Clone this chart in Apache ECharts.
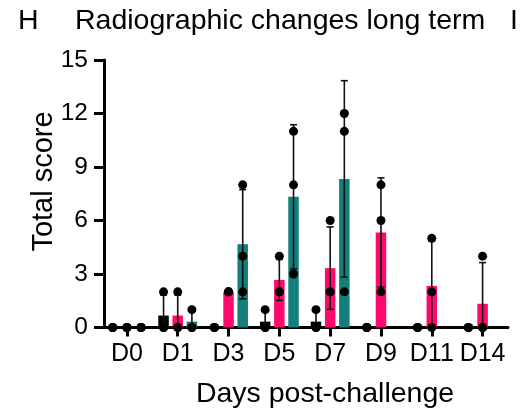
<!DOCTYPE html>
<html>
<head>
<meta charset="utf-8">
<script src="https://cdn.jsdelivr.net/npm/echarts@6/dist/echarts.min.js"></script>
<style>
  html, body { margin: 0; padding: 0; background: #fff; }
  #chart { width: 530px; height: 412px; }
</style>
</head>
<body>
<div id="chart"></div>
<script>
// Days after challenge
const categories = ['D0', 'D1', 'D3', 'D5', 'D7', 'D9', 'D11', 'D14'];
const yTicks = { min: 0, max: 15, interval: 3 };

// Group means (bar heights)
const meanA = [0, 0.67, 0, 0.33, 0.33, 0, 0, 0];
const meanB = [0, 0.67, 2, 2.67, 3.33, 5.33, 2.33, 1.33];
const meanC = [0, 0.33, 4.67, 7.33, 8.33, null, null, null];

// Standard deviations (error bars)
const sdA = [0, 1.15, 0, 0.58, 0.58, 0, 0, 0];
const sdB = [0, 1.15, 0, 1.15, 2.31, 3.06, 2.52, 2.31];
const sdC = [0, 0.58, 3.06, 4.04, 5.51, null, null, null];

// Individual animal scores
const pointsA = [[0, 0, 0], [2, 0, 0], [0, 0, 0], [1, 0, 0], [1, 0, 0], [0, 0, 0], [0, 0, 0], [0, 0, 0]];
const pointsB = [[0, 0, 0], [2, 0, 0], [2, 2, 2], [4, 2, 2], [6, 2, 2], [8, 6, 2], [5, 2, 0], [4, 0, 0]];
const pointsC = [[0, 0, 0], [1, 0, 0], [8, 4, 2], [11, 8, 3], [12, 11, 2], null, null, null];

const FONT = 'Liberation Sans, Arial, sans-serif';
const BAR_W = 10.5;
const BAR_GAP = 0.35;
const STEP = BAR_W * (1 + BAR_GAP);

const groups = [
  { name: 'Group A', color: '#000000', mean: meanA, sd: sdA, pts: pointsA, offset: -STEP },
  { name: 'Group B', color: '#FF0A6C', mean: meanB, sd: sdB, pts: pointsB, offset: 0 },
  { name: 'Group C', color: '#137E7A', mean: meanC, sd: sdC, pts: pointsC, offset: STEP }
];

// Error bar (mean ± SD, clipped at zero) plus one dot per animal
function makeRenderer(offset) {
  return function (params, api) {
    const cat = api.value(0);
    const mean = api.value(1);
    const sd = api.value(2);
    const x = api.coord([cat, 0])[0] + offset;
    const children = [];
    const lineStyle = { stroke: '#111', lineWidth: 1.6 };
    if (sd > 0) {
      const yTop = api.coord([cat, mean + sd])[1];
      const lowVal = Math.max(0, mean - sd);
      const yBot = api.coord([cat, lowVal])[1];
      children.push({ type: 'line', shape: { x1: x, y1: yTop, x2: x, y2: yBot }, style: lineStyle });
      children.push({ type: 'line', shape: { x1: x - 3.5, y1: yTop, x2: x + 3.5, y2: yTop }, style: lineStyle });
      if (lowVal > 0) {
        children.push({ type: 'line', shape: { x1: x - 3.5, y1: yBot, x2: x + 3.5, y2: yBot }, style: lineStyle });
      }
    }
    for (let k = 3; k < 6; k++) {
      const v = api.value(k);
      const y = api.coord([cat, v])[1];
      children.push({ type: 'circle', shape: { cx: x, cy: y, r: 4.5 }, style: { fill: '#000' } });
    }
    return { type: 'group', children: children };
  };
}

const series = [];
groups.forEach(function (g) {
  series.push({
    name: g.name,
    type: 'bar',
    data: g.mean,
    barWidth: BAR_W,
    barGap: (BAR_GAP * 100) + '%',
    itemStyle: { color: g.color },
    z: 2,
    silent: true
  });
});
groups.forEach(function (g) {
  const rows = [];
  g.mean.forEach(function (m, i) {
    if (m === null || !g.pts[i]) return;
    rows.push([i, m, g.sd[i]].concat(g.pts[i]));
  });
  series.push({
    name: g.name + ' points',
    type: 'custom',
    renderItem: makeRenderer(g.offset),
    data: rows,
    clip: false,
    z: 5,
    silent: true
  });
});

const chart = echarts.init(document.getElementById('chart'), null, { renderer: 'canvas' });
chart.setOption({
  animation: false,
  backgroundColor: '#fff',
  textStyle: { fontFamily: FONT, color: '#000' },
  graphic: [
    { type: 'text', left: 18, top: 7, style: { text: 'H', font: '28.5px ' + FONT, fill: '#000' } },
    { type: 'text', left: 75, top: 7, style: { text: 'Radiographic changes long term', font: '28.5px ' + FONT, fill: '#000' } },
    { type: 'text', left: 510, top: 7, style: { text: 'I', font: '28.5px ' + FONT, fill: '#000' } },
    {
      type: 'text', x: 43.5, y: 181.5, rotation: Math.PI / 2,
      style: { text: 'Total score', font: '29px ' + FONT, fill: '#000', align: 'center', verticalAlign: 'middle' }
    },
    {
      type: 'text', x: 325, y: 394,
      style: { text: 'Days post-challenge', font: '28.5px ' + FONT, fill: '#000', align: 'center', verticalAlign: 'middle' }
    }
  ],
  grid: { left: 101.5, right: 22, top: 60, bottom: 84.5, containLabel: false },
  xAxis: {
    type: 'category',
    data: categories,
    axisLine: { lineStyle: { color: '#000', width: 3 } },
    axisTick: { show: true, alignWithLabel: true, length: 9, lineStyle: { color: '#000', width: 3 } },
    axisLabel: { fontSize: 25, color: '#000', margin: 14, fontFamily: FONT, interval: 0 }
  },
  yAxis: {
    type: 'value',
    min: yTicks.min,
    max: yTicks.max,
    interval: yTicks.interval,
    offset: -2.5,
    axisLine: { show: true, lineStyle: { color: '#000', width: 3 } },
    axisTick: { show: true, length: 10, lineStyle: { color: '#000', width: 3 } },
    axisLabel: { fontSize: 24.5, color: '#000', margin: 16, fontFamily: FONT },
    splitLine: { show: false }
  },
  series: series
});
</script>
</body>
</html>
